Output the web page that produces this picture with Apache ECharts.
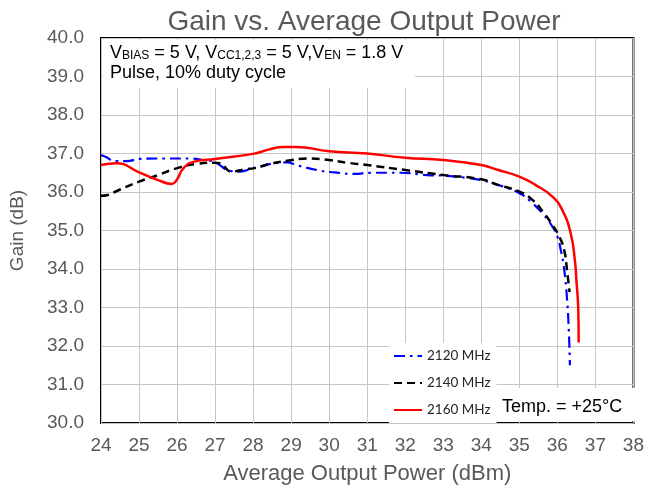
<!DOCTYPE html>
<html>
<head>
<meta charset="utf-8">
<script src="https://cdn.jsdelivr.net/npm/echarts@6/dist/echarts.min.js"></script>
<style>html,body{margin:0;padding:0;background:#fff;}#c{width:647px;height:490px;}</style>
</head>
<body>
<div id="c"></div>
<script>
const xTicks = [24,25,26,27,28,29,30,31,32,33,34,35,36,37,38];
const yTicks = [30,31,32,33,34,35,36,37,38,39,40];
const seriesNames = ['2120 MHz','2140 MHz','2160 MHz'];

const power2120 = [24.0,24.1,24.4,24.75,25.0,25.65,26.3,26.7,27.0,27.4,27.65,28.0,28.6,28.9,29.13,29.78,30.13,30.65,31.09,31.86,32.57,33.1,33.6,34.04,34.45,35.0,35.3,35.65,35.87,36.0,36.09,36.17,36.25,36.3,36.33];
const gain2120  = [36.96,36.92,36.80,36.81,36.86,36.87,36.87,36.83,36.77,36.55,36.53,36.62,36.75,36.77,36.70,36.55,36.51,36.47,36.50,36.50,36.44,36.42,36.37,36.30,36.18,35.97,35.75,35.40,35.10,34.84,34.49,34.06,33.28,32.42,31.50];

const power2140 = [24.0,24.2,24.4,25.0,25.5,26.0,26.5,27.0,27.12,27.43,27.78,28.04,28.5,28.9,29.43,30.0,30.48,31.0,32.0,33.0,34.0,34.45,35.0,35.35,35.65,35.87,36.05,36.18,36.25,36.32];
const gain2140  = [35.90,35.93,36.02,36.27,36.44,36.62,36.73,36.76,36.75,36.53,36.59,36.62,36.74,36.81,36.87,36.83,36.76,36.70,36.57,36.44,36.33,36.18,36.01,35.79,35.45,35.14,34.84,34.49,34.00,33.40];

const power2160 = [24.0,24.4,25.0,25.5,25.86,25.99,26.17,26.45,27.0,28.0,28.4,28.8,29.13,30.0,31.0,32.0,33.0,34.0,34.45,35.0,35.43,35.87,36.13,36.35,36.46,36.5,36.55,36.56];
const gain2160  = [36.70,36.75,36.51,36.31,36.21,36.31,36.62,36.79,36.86,36.99,37.10,37.17,37.17,37.06,37.00,36.89,36.83,36.70,36.57,36.40,36.18,35.88,35.53,34.93,34.23,33.71,32.94,32.09];

function pairs(xs, ys){ return xs.map((x,i)=>[x, ys[i]]); }

const chart = echarts.init(document.getElementById('c'), null, {renderer:'canvas'});
const labelColor = '#595959';
const font = '"Liberation Sans", Arial, sans-serif';

chart.setOption({
  animation: false,
  backgroundColor: '#ffffff',
  title: {
    text: 'Gain vs. Average Output Power',
    left: 359, top: 3, textAlign: 'center',
    textStyle: {fontFamily: font, fontSize: 28, fontWeight: 'normal', color: labelColor}
  },
  grid: {left: 101, right: 10, top: 38, bottom: 67, show: true, borderColor: '#000', borderWidth: 2, backgroundColor: 'transparent'},
  xAxis: {
    type: 'value', min: xTicks[0], max: xTicks[xTicks.length-1], interval: 1,
    name: 'Average Output Power (dBm)', nameLocation: 'middle', nameGap: 40,
    nameTextStyle: {fontFamily: font, fontSize: 22, color: labelColor},
    axisLine: {show: false}, axisTick: {show: false},
    axisLabel: {fontFamily: font, fontSize: 19, color: labelColor, margin: 13},
    splitLine: {show: true, lineStyle: {color: '#c6c6c6', width: 1}}
  },
  yAxis: {
    type: 'value', min: yTicks[0], max: yTicks[yTicks.length-1], interval: 1,
    name: 'Gain (dB)', nameLocation: 'middle', nameGap: 74,
    nameTextStyle: {fontFamily: font, fontSize: 19, color: labelColor},
    axisLine: {show: false}, axisTick: {show: false},
    axisLabel: {fontFamily: font, fontSize: 19, color: labelColor, margin: 17, formatter: v => v.toFixed(1)},
    splitLine: {show: true, lineStyle: {color: '#c6c6c6', width: 1}}
  },
  legend: {
    orient: 'vertical', left: 389, top: 343,
    data: seriesNames,
    itemWidth: 28, itemHeight: 12, itemGap: 13,
    padding: [6, 6, 6, 4],
    backgroundColor: '#ffffff',
    itemStyle: {opacity: 0},
    textStyle: {fontFamily: 'Lato, "Open Sans", sans-serif', fontSize: 13.5, color: '#262626'},
    selectedMode: false
  },
  graphic: [
    {type: 'rect', z: 5, shape: {x: 103, y: 40, width: 312, height: 48}, style: {fill: '#ffffff'}},
    {type: 'text', z: 6, x: 110, y: 42,
      style: {
        text: '{n|V}{s|BIAS}{n| = 5 V, V}{s|CC1,2,3}{n| = 5 V,V}{s|EN}{n| = 1.8 V}\n{n|Pulse, 10% duty cycle}',
        rich: {
          n: {fontFamily: font, fontSize: 18, color: '#000', lineHeight: 20, verticalAlign: 'bottom'},
          s: {fontFamily: font, fontSize: 12, color: '#000', lineHeight: 17, verticalAlign: 'bottom'}
        }
      }
    },
    {type: 'rect', z: 5, shape: {x: 493, y: 388, width: 143, height: 33}, style: {fill: '#ffffff'}},
    {type: 'text', z: 6, x: 502, y: 407,
      style: {text: 'Temp. = +25°C', fontFamily: font, fontSize: 18, fill: '#000', verticalAlign: 'middle'}}
  ],
  series: [
    {name: seriesNames[0], type: 'line', data: pairs(power2120, gain2120), showSymbol: false, symbol: 'none',
      smooth: 0.5, lineStyle: {color: '#0000ff', width: 2.2, type: [11, 5, 2.5, 5]}, itemStyle: {color: '#0000ff'}},
    {name: seriesNames[1], type: 'line', data: pairs(power2140, gain2140), showSymbol: false, symbol: 'none',
      smooth: 0.5, lineStyle: {color: '#000000', width: 2.5, type: [8, 5]}, itemStyle: {color: '#000000'}},
    {name: seriesNames[2], type: 'line', data: pairs(power2160, gain2160), showSymbol: false, symbol: 'none',
      smooth: 0.5, lineStyle: {color: '#ff0000', width: 2.5, type: 'solid'}, itemStyle: {color: '#ff0000'}}
  ]
});
</script>
</body>
</html>
